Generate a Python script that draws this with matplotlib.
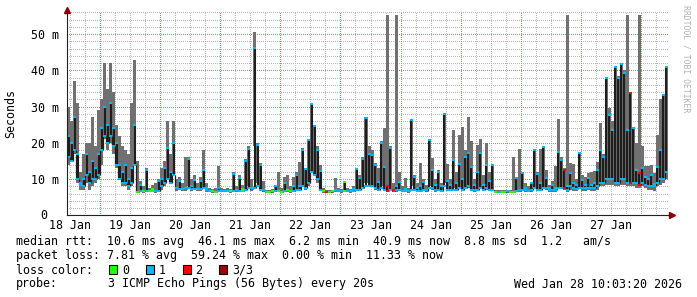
import numpy as np
import pandas as pd
import matplotlib
matplotlib.use('Agg')
import matplotlib.pyplot as plt
import matplotlib.dates as mdates
import matplotlib.transforms as mtransforms
from matplotlib.patches import Rectangle
from matplotlib.ticker import MultipleLocator, FuncFormatter

plt.rcParams['font.family'] = ['DejaVu Sans Mono']
plt.rcParams['font.size'] = 8.4

# smokeping data, one value per 72 min step, in ms
# med = median rtt at end of step, mlo = lowest median inside the step
med = [22, 20, 27, 17, 9, 10, 17, 12, 15, 13,
       17, 24, 30, 25, 31, 24, 20, 14, 12, 14,
       10, 13, 25, 6.5, 8.5, 6.6, 12.5, 6.7, 7.2, 6.6,
       9.5, 10, 13, 18.5, 12, 20, 7.5, 9.5, 7.2, 7.4,
       15.5, 8, 9.8, 7.2, 9.5, 12.5, 7.5, 6.8, 6.6, 6.5,
       7.5, 6.7, 6.6, 6.8, 6.6, 11.3, 7, 10.4, 7.2, 15,
       18.3, 7.5, 46.1, 19.4, 14, 7, 6.5, 6.5, 6.6, 8,
       6.8, 6.5, 9, 7, 6.6, 8, 11, 8, 18, 12.7,
       20.8, 30.8, 24.7, 18, 12.2, 6.6, 6.5, 6.5, 6.6, 7,
       6.7, 6.6, 9.3, 6.8, 6.6, 7.2, 12.8, 10.2, 15.6, 26.8,
       17, 16.7, 14, 9.3, 20, 13.4, 8, 18.7, 7, 8,
       9.3, 6.8, 7.2, 6.8, 26.3, 10.7, 7.5, 8, 9.3, 7,
       20.8, 12.5, 8.5, 12, 8, 28, 9.5, 8.5, 15.3, 9,
       14.2, 10, 16.2, 17.3, 13.4, 8.5, 12, 17.1, 8.5, 14,
       9.5, 13.8, 6.5, 6.5, 6.5, 6.5, 6.6, 6.5, 6.5, 10.2,
       7, 11.6, 7.5, 6.8, 8.8, 17.9, 11.5, 9, 18.8, 10.2,
       7.5, 8.5, 7.5, 17.6, 15.3, 12.5, 8, 11.6, 9, 8.5,
       17.3, 9.8, 8.5, 10.2, 8.5, 9, 12.5, 18, 16.2, 37.8,
       27.7, 23.6, 41, 37.8, 41.7, 39.2, 23.6, 33.9, 24, 12.5,
       11.6, 13, 10.7, 10, 11, 8.7, 13.4, 18, 33.2, 40.9]

mlo = [16, 15, 18, 10, 8.5, 8, 11, 9, 10, 10,
       11, 18, 22, 20, 22, 19, 14, 10, 9, 9,
       8, 9, 14, 6.5, 6.6, 6.6, 6.7, 6.7, 6.6, 6.6,
       6.8, 8, 9, 10, 9, 11, 7.3, 7.3, 7.2, 7.2,
       7.5, 7.2, 7.2, 7.2, 7.2, 7.5, 7, 6.8, 6.6, 6.5,
       6.7, 6.7, 6.6, 6.8, 6.6, 6.7, 6.8, 6.8, 6.8, 7,
       7.5, 7.2, 7.5, 8, 7, 6.8, 6.5, 6.5, 6.6, 6.6,
       6.8, 6.5, 6.6, 6.7, 6.6, 6.6, 7, 7, 8, 7.5,
       9, 12, 11, 10, 7, 6.6, 6.5, 6.5, 6.6, 6.7,
       6.7, 6.6, 6.6, 6.8, 6.6, 6.8, 7, 7, 7.5, 8,
       8, 8, 7.5, 7, 7.5, 7, 6.8, 7, 6.8, 7,
       7, 6.8, 6.8, 6.8, 7, 7, 6.8, 6.8, 7, 6.8,
       7.5, 7.5, 7, 7, 6.8, 8, 7, 7, 7, 7,
       7.5, 7, 7.5, 8, 7, 7, 7, 7.5, 7, 7.5,
       7, 7, 6.5, 6.5, 6.5, 6.5, 6.6, 6.5, 6.5, 6.8,
       6.8, 7, 7, 6.8, 7, 7.5, 7, 7, 7.5, 7.5,
       7, 7, 7, 7.5, 7.5, 7.5, 7, 8, 7.5, 7.2,
       7.5, 7.5, 7.5, 7.5, 7.5, 7.5, 8, 9, 9, 10,
       10, 10, 9, 9, 10, 10, 9, 9, 9, 9,
       8.5, 9, 8.5, 8, 8, 8, 9, 10, 10, 12]

# smoke (min / max of the 3 pings)
lo = [14, 15, 17, 9, 7, 7, 9, 7, 8, 9,
      10, 14, 21, 18, 20, 17, 13, 10, 8, 8,
      7, 8, 14, 6.2, 6.3, 6.2, 6.5, 6.3, 6.3, 6.2,
      6.5, 7, 8, 10, 9, 11, 6.6, 7, 6.6, 6.7,
      8, 6.8, 7, 6.6, 6.8, 7.5, 6.5, 6.3, 6.2, 6.2,
      6.4, 6.3, 6.3, 6.3, 6.2, 6.6, 6.4, 6.8, 6.5, 7,
      8, 6.6, 19, 9, 7, 6.4, 6.2, 6.2, 6.2, 6.3,
      6.3, 6.2, 6.5, 6.3, 6.2, 6.4, 7, 6.8, 8, 7,
      8, 12, 11, 9, 7, 6.2, 6.2, 6.2, 6.2, 6.3,
      6.3, 6.2, 6.4, 6.3, 6.2, 6.3, 7, 6.8, 7.5, 9,
      8, 8, 7, 6.6, 8, 7, 6.5, 7, 6.4, 6.5,
      6.8, 6.3, 6.3, 6.2, 8, 6.8, 6.4, 6.5, 6.6, 6.3,
      8, 7, 6.5, 7, 6.6, 9, 6.8, 6.6, 7.5, 6.7,
      7.5, 7, 7.5, 7.5, 7, 6.5, 7, 7.5, 6.6, 7,
      6.7, 7, 6.2, 6.2, 6.2, 6.2, 6.2, 6.2, 6.2, 6.6,
      6.3, 6.8, 6.4, 6.3, 6.5, 7.5, 7, 6.7, 7.5, 7,
      6.4, 6.5, 6.4, 7.5, 7.2, 7, 6.5, 7, 6.8, 6.6,
      7.5, 6.8, 6.6, 7, 6.6, 6.8, 7, 8, 8, 8.5,
      8.5, 8.5, 8, 8, 8.5, 8.5, 8, 8, 8, 7.5,
      7.5, 8, 7.5, 7, 7, 6.8, 8, 8.5, 9, 10]

hi = [30, 26, 37, 31, 12, 17, 20, 20, 27, 19,
      29, 32, 42, 35, 42, 34, 25, 22, 19, 18,
      17, 31, 43, 15, 9.5, 8, 13, 7.5, 8.5, 9,
      10, 13, 15, 26, 17, 26, 10, 10.5, 9, 16,
      16, 10, 11, 9, 10.5, 18, 9, 7.5, 7.2, 7.5,
      13.5, 7.5, 7.2, 7.5, 7.2, 12, 8, 11, 8.5, 15.5,
      19, 10, 50.5, 20, 14.5, 9.5, 7, 7, 7.2, 8.5,
      11.9, 7.5, 10.7, 11, 8, 10.5, 12, 14.8, 18.5, 13,
      21, 31, 25, 19, 14, 7.5, 7, 7, 7, 10.2,
      7.5, 7.3, 9.5, 7.5, 7.3, 8, 13, 11, 16, 27,
      19, 18, 14.5, 13, 20.5, 24, 55.3, 19, 9, 55.3,
      11.9, 8, 10.2, 7.5, 26.5, 11, 9, 14.4, 10, 8.5,
      21, 15.7, 10, 12.5, 9, 28.2, 14.2, 10, 23.6, 12,
      22.2, 24.3, 18, 27, 20.5, 10, 19.4, 21, 11, 20,
      12, 14, 7, 7, 6.9, 6.9, 7, 6.9, 16, 10.5,
      18.2, 12, 9, 8, 9, 18, 12, 18.2, 19, 12.5,
      8.5, 9.5, 13.6, 26.5, 16, 13, 55.3, 14.4, 14.2, 10,
      17.5, 11, 10.5, 11.8, 12, 12.2, 14.8, 25.4, 17, 38,
      29.5, 26, 41.2, 38.5, 42, 40, 55.3, 34, 24.5, 19.9,
      55.3, 19, 13.5, 13.5, 14, 11.6, 22.2, 32, 33.5, 41.2]

# lost pings (of 3) per step
loss = [1, 1, 1, 1, 1, 1, 1, 1, 1, 1,
        1, 1, 1, 1, 1, 1, 1, 1, 1, 1,
        1, 1, 1, 0, 1, 0, 1, 0, 0, 1,
        1, 1, 1, 1, 1, 1, 1, 1, 1, 1,
        1, 1, 1, 1, 1, 1, 1, 1, 0, 0,
        1, 1, 1, 1, 0, 1, 1, 1, 0, 1,
        1, 1, 1, 1, 1, 1, 0, 0, 0, 1,
        0, 0, 1, 0, 0, 1, 1, 1, 1, 1,
        1, 1, 1, 1, 1, 0, 2, 0, 0, 1,
        1, 1, 0, 1, 1, 1, 1, 1, 1, 1,
        1, 1, 1, 1, 1, 1, 2, 1, 2, 1,
        1, 1, 1, 1, 1, 1, 1, 1, 1, 1,
        1, 1, 1, 1, 1, 1, 1, 1, 1, 1,
        1, 1, 1, 1, 1, 1, 1, 1, 1, 1,
        1, 1, 0, 1, 0, 0, 1, 0, 0, 1,
        1, 1, 1, 1, 1, 1, 1, 1, 1, 1,
        1, 1, 1, 1, 1, 2, 1, 1, 1, 1,
        1, 1, 1, 1, 1, 1, 1, 1, 1, 1,
        1, 1, 1, 1, 1, 1, 1, 2, 1, 1,
        2, 1, 1, 1, 1, 1, 1, 1, 1, 1]

loss_colors = ['#26ff00', '#00b8ff', '#ff0000', '#a00000']
loss_labels = ['0', '1', '2', '3/3']

stats_rtt = 'median rtt:  10.6 ms avg  46.1 ms max  6.2 ms min  40.9 ms now  8.8 ms sd  1.2   am/s'
stats_loss = 'packet loss: 7.81 % avg  59.24 % max  0.00 % min  11.33 % now'
probe_txt = '3 ICMP Echo Pings (56 Bytes) every 20s'
stamp = 'Wed Jan 28 10:03:20 2026'

med = np.array(med, float)
mlo = np.array(mlo, float)
lo = np.array(lo, float)
hi = np.array(hi, float)
loss = np.array(loss)

edges = pd.date_range('2026-01-18 10:48', periods=len(med) + 1, freq='72min')
ex = mdates.date2num(edges.to_pydatetime())
cx = (ex[:-1] + ex[1:]) / 2
cols = np.array(loss_colors)[loss]

W, H = 697, 297
fig = plt.figure(figsize=(W / 100, H / 100), dpi=100)
fig.patch.set_facecolor('white')
ax = fig.add_axes([67 / W, (H - 215.3) / H, 601 / W, 204.3 / H])

# smoke
ax.stairs(hi, ex, baseline=lo, fill=True, color='#707070', linewidth=0, zorder=2)
# median line, black transitions
ax.vlines(cx, mlo, med, color='#1e1e1e', lw=1.5, zorder=3)
ax.vlines(ex[1:-1], mlo[:-1], mlo[1:], color='#1e1e1e', lw=0.9, zorder=3)
# loss coloured median
ax.hlines(med, ex[:-1], ex[1:], colors=cols, lw=1.5, zorder=4)
m = (med - mlo) > 0.4
ax.hlines(mlo[m], ex[:-1][m], ex[1:][m], colors=cols[m], lw=1.4, zorder=4)

ax.set_xlim(ex[0], ex[-1])
ax.set_ylim(0, 56.4)

# grid
ax.xaxis.set_major_locator(mdates.HourLocator(byhour=[12]))
ax.xaxis.set_minor_locator(mdates.HourLocator(byhour=[0, 6, 12, 18]))
ax.xaxis.remove_overlapping_locs = False
ax.xaxis.set_major_formatter(FuncFormatter(
    lambda v, p: mdates.num2date(v).strftime('%d %b')))
ax.yaxis.set_major_locator(MultipleLocator(10))
ax.yaxis.set_minor_locator(MultipleLocator(2))
ax.yaxis.set_major_formatter(FuncFormatter(lambda v, p: '' if v == 0 else '%d m' % v))
ax.set_axisbelow(True)
dot = (0, (1, 2))
ax.grid(which='minor', color='#b8b8b8', ls=dot, lw=0.72, antialiased=False)
ax.yaxis.grid(True, which='major', color='#f07070', ls=dot, lw=0.72, antialiased=False)
ax.xaxis.grid(False, which='major')
for d in pd.date_range('2026-01-19', '2026-01-28', freq='D'):
    ax.axvline(mdates.date2num(d.to_pydatetime()), color='#f07070', ls=dot,
               lw=0.72, zorder=0.6, antialiased=False)

ax.tick_params(which='both', length=0)
ax.tick_params(axis='y', pad=5.5)
ax.tick_params(axis='x', pad=3)

for s in ['top', 'right']:
    ax.spines[s].set_visible(False)
for s in ['left', 'bottom']:
    ax.spines[s].set_color('#202020')
    ax.spines[s].set_linewidth(0.8)
    ax.spines[s].set_zorder(5)

# axis arrows
ax.plot([1.0, 1.006], [0, 0], color='#202020', lw=0.8, transform=ax.transAxes, clip_on=False)
ax.plot([1.007], [0], marker='>', ms=4, color='#8b0000', transform=ax.transAxes, clip_on=False)
ax.plot([0], [1.005], marker='^', ms=4, color='#8b0000', transform=ax.transAxes, clip_on=False)

tr = mtransforms.blended_transform_factory(fig.transFigure, ax.transData)
ax.text(44.2 / W, 0, '0', transform=tr, ha='center', va='center')

fig.text(11 / W, 1 - 114 / H, 'Seconds', rotation=90, ha='center', va='center')
fig.text(686 / W, 1 - 5 / H, 'RRDTOOL / TOBI OETIKER', rotation=270,
         ha='center', va='top', fontsize=5.9, color='#b0b0b0')

# legend rows
fig.text(16 / W, 1 - 245.5 / H, stats_rtt, va='baseline')
fig.text(16 / W, 1 - 259.5 / H, stats_loss, va='baseline')
fig.text(16 / W, 1 - 273.5 / H, 'loss color:', va='baseline')
fig.text(16 / W, 1 - 287.5 / H, 'probe:', va='baseline')
fig.text(107.5 / W, 1 - 287.5 / H, probe_txt, va='baseline')
fig.text(682 / W, 1 - 287.5 / H, stamp, va='baseline', ha='right')

box_x = [108.5, 145.8, 182.5, 219]
txt_x = [122, 158.5, 195.5, 232]
for bx, tx, c, lab in zip(box_x, txt_x, loss_colors, loss_labels):
    fig.patches.append(Rectangle((bx / W, 1 - 274 / H), 8 / W, 9 / H,
                                 transform=fig.transFigure, facecolor=c,
                                 edgecolor='black', lw=0.8))
    fig.text(tx / W, 1 - 273.5 / H, lab, va='baseline')

fig.savefig('out.png', dpi=100)
